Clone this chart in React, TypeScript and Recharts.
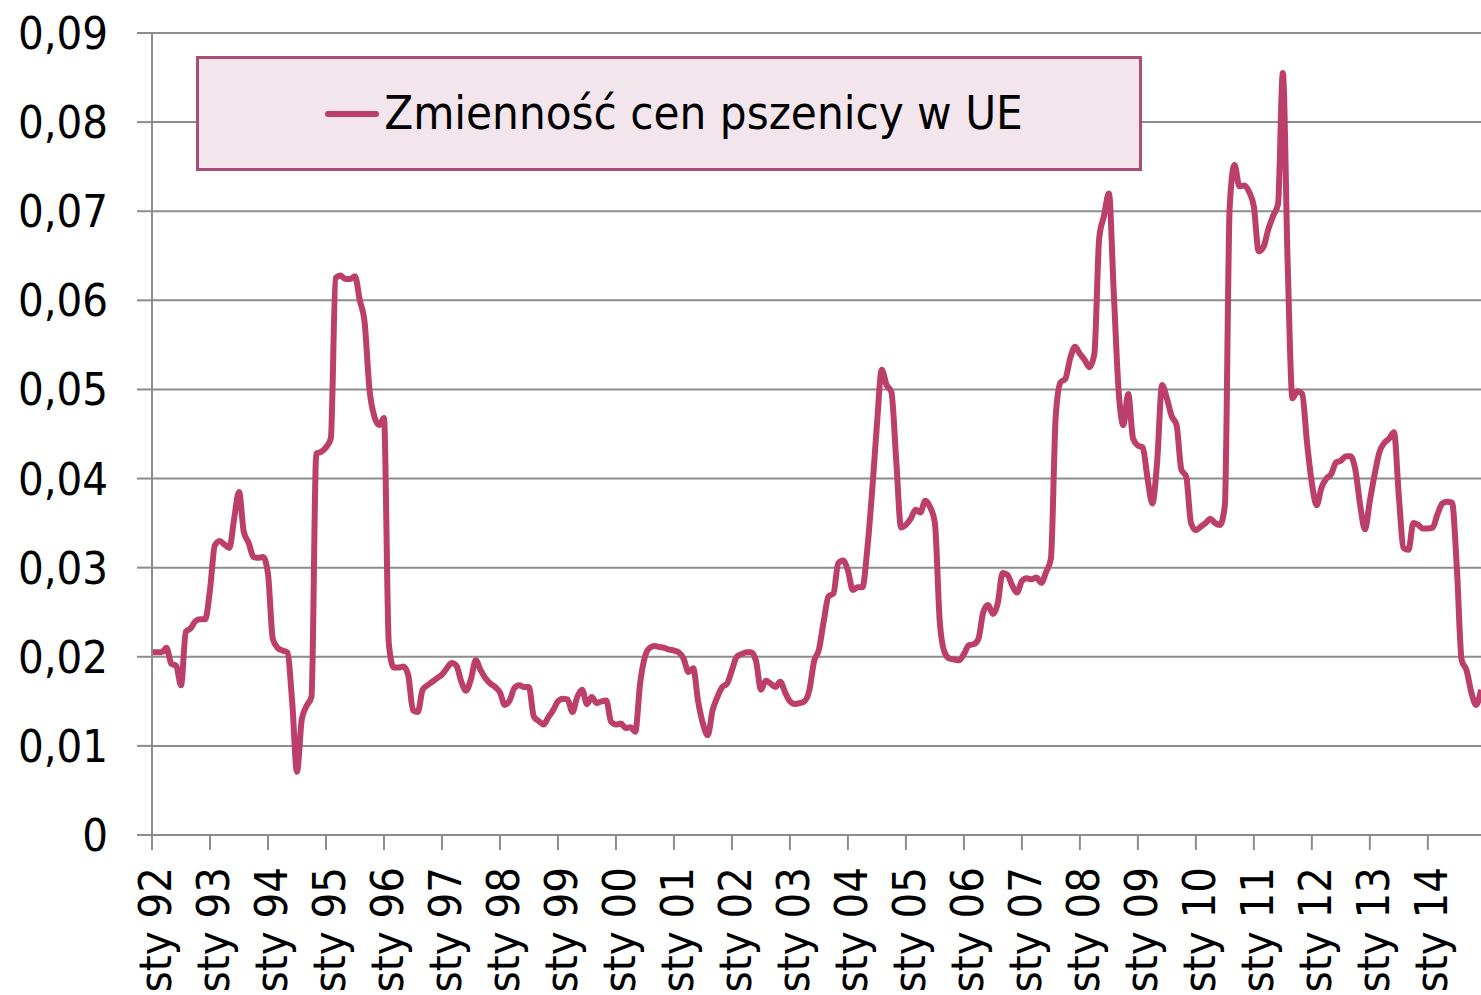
import React from "react";
import { LineChart, Line, XAxis, YAxis, CartesianGrid } from "recharts";

// monthly values, one array per year (sty = January)
const y1992 = [0.0205, 0.0205, 0.0205, 0.021, 0.0192, 0.019, 0.0168, 0.0228, 0.0232, 0.024, 0.0242, 0.0242];
const y1993 = [0.0275, 0.0325, 0.033, 0.0326, 0.0322, 0.0355, 0.0385, 0.034, 0.0328, 0.0312, 0.0311, 0.0312];
const y1994 = [0.0293, 0.022, 0.021, 0.0207, 0.0205, 0.015, 0.0071, 0.013, 0.0145, 0.0155, 0.0428, 0.043];
const y1995 = [0.0435, 0.0445, 0.0625, 0.0628, 0.0624, 0.0624, 0.0627, 0.06, 0.0575, 0.05, 0.047, 0.046];
const y1996 = [0.0468, 0.0215, 0.0188, 0.0188, 0.0189, 0.018, 0.014, 0.0138, 0.0163, 0.0168, 0.0172, 0.0176];
const y1997 = [0.018, 0.0187, 0.0193, 0.019, 0.0172, 0.0162, 0.0175, 0.0196, 0.0185, 0.0176, 0.017, 0.0166];
const y1998 = [0.016, 0.0146, 0.0151, 0.0165, 0.0168, 0.0166, 0.0166, 0.0133, 0.0128, 0.0124, 0.0132, 0.014];
const y1999 = [0.015, 0.0153, 0.0152, 0.0138, 0.0155, 0.0163, 0.0147, 0.0155, 0.0148, 0.015, 0.0151, 0.0127];
const y2000 = [0.0124, 0.0125, 0.012, 0.0121, 0.0116, 0.017, 0.02, 0.021, 0.0212, 0.0211, 0.021, 0.0208];
const y2001 = [0.0207, 0.0205, 0.0198, 0.0183, 0.0187, 0.015, 0.0125, 0.0112, 0.014, 0.0155, 0.0166, 0.017];
const y2002 = [0.0185, 0.02, 0.0203, 0.0205, 0.0205, 0.0195, 0.0163, 0.0173, 0.017, 0.0166, 0.0172, 0.016];
const y2003 = [0.015, 0.0147, 0.0148, 0.015, 0.0162, 0.0195, 0.0208, 0.024, 0.0268, 0.0271, 0.0305, 0.0308];
const y2004 = [0.0297, 0.0275, 0.0278, 0.0278, 0.032, 0.0385, 0.046, 0.0522, 0.0505, 0.0497, 0.042, 0.0345];
const y2005 = [0.0348, 0.0355, 0.0365, 0.0362, 0.0375, 0.0368, 0.035, 0.024, 0.0205, 0.0198, 0.0197, 0.0196];
const y2006 = [0.0203, 0.0213, 0.0214, 0.022, 0.025, 0.0258, 0.0248, 0.026, 0.0294, 0.0292, 0.028, 0.0272];
const y2007 = [0.0285, 0.0288, 0.0287, 0.0289, 0.0283, 0.0295, 0.031, 0.047, 0.0508, 0.0512, 0.0535, 0.0548];
const y2008 = [0.054, 0.0533, 0.0525, 0.054, 0.067, 0.0695, 0.072, 0.061, 0.05, 0.046, 0.0495, 0.0445];
const y2009 = [0.0437, 0.0435, 0.04, 0.0372, 0.042, 0.0505, 0.049, 0.047, 0.046, 0.041, 0.0402, 0.035];
const y2010 = [0.0342, 0.0346, 0.035, 0.0355, 0.035, 0.0348, 0.037, 0.0705, 0.0752, 0.0728, 0.0729, 0.0722];
const y2011 = [0.0705, 0.0655, 0.066, 0.068, 0.0695, 0.0708, 0.0855, 0.064, 0.049, 0.0498, 0.0495, 0.044];
const y2012 = [0.0395, 0.037, 0.039, 0.04, 0.0405, 0.0418, 0.042, 0.0425, 0.0425, 0.041, 0.037, 0.0343];
const y2013 = [0.0375, 0.0405, 0.043, 0.044, 0.0445, 0.0452, 0.038, 0.0322, 0.032, 0.035, 0.0348, 0.0344];
const y2014 = [0.0344, 0.0345, 0.036, 0.0372, 0.0374, 0.0373, 0.03, 0.0196, 0.0185, 0.016, 0.0146, 0.0163];

const years = [
  y1992, y1993, y1994, y1995, y1996, y1997, y1998, y1999, y2000, y2001, y2002, y2003,
  y2004, y2005, y2006, y2007, y2008, y2009, y2010, y2011, y2012, y2013, y2014,
];
const yearLabels = ["92", "93", "94", "95", "96", "97", "98", "99", "00", "01", "02", "03",
  "04", "05", "06", "07", "08", "09", "10", "11", "12", "13", "14"];
const yTicks = [0, 0.01, 0.02, 0.03, 0.04, 0.05, 0.06, 0.07, 0.08, 0.09];
const seriesName = "Zmienność cen pszenicy w UE";

const data = years.flatMap((vals, yi) => vals.map((v, mi) => ({ m: yi * 12 + mi, v })));
const xTicks = yearLabels.map((_, i) => i * 12);

const FONT = "'DejaVu Sans Condensed', 'DejaVu Sans', sans-serif";
const LINE = "#BC3E6B";
const AXIS = "#8C8C8C";

function XTick({ x, y, payload }: any) {
  const label = "sty " + yearLabels[Math.round(payload.value / 12)];
  return (
    <text
      transform={`translate(${x + 19},${y + 17}) rotate(-90)`}
      textAnchor="end"
      fontFamily={FONT}
      fontStretch="condensed"
      fontSize={45}
      fill="#000"
    >
      {label}
    </text>
  );
}

// legend box drawn over the plot, Excel style
function LegendBox() {
  return (
    <div
      style={{
        position: "absolute",
        left: 196,
        top: 56,
        width: 930,
        height: 109,
        paddingLeft: 10,
        boxSizing: "content-box",
        background: "#F3E5EC",
        border: "3px solid #A84F79",
        display: "flex",
        alignItems: "center",
        justifyContent: "center",
        fontFamily: FONT,
        fontStretch: "condensed",
        fontSize: 47,
        color: "#000",
        whiteSpace: "nowrap",
      }}
    >
      <span style={{ display: "inline-block", width: 54, height: 6, background: LINE, borderRadius: 3, marginRight: 5 }} />
      <span style={{ marginTop: -2 }}>{seriesName}</span>
    </div>
  );
}

export default function App() {
  return (
    <div style={{ position: "absolute", left: 0, top: 0, width: 1481, height: 995, background: "#fff" }}>
      <LineChart width={1481} height={995} data={data} margin={{ top: 33, right: 0, left: 0, bottom: 0 }}>
        <CartesianGrid vertical={false} stroke={AXIS} strokeWidth={2} />
        <XAxis
          dataKey="m"
          type="number"
          domain={[0, 275]}
          ticks={xTicks}
          interval={0}
          height={160}
          tickSize={15}
          tickMargin={0}
          stroke={AXIS}
          strokeWidth={2}
          tick={<XTick />}
        />
        <YAxis
          domain={[0, 0.09]}
          ticks={yTicks}
          width={152}
          tickSize={15}
          tickMargin={29}
          stroke={AXIS}
          strokeWidth={2}
          interval={0}
          tick={{ fill: "#000", fontSize: 45, fontFamily: FONT, fontStretch: "condensed" } as any}
          tickFormatter={(v: number) => (v === 0 ? "0" : v.toFixed(2).replace(".", ","))}
        />
        <Line
          type="monotone"
          dataKey="v"
          name={seriesName}
          stroke={LINE}
          strokeWidth={6}
          dot={false}
          isAnimationActive={false}
        />
      </LineChart>
      <LegendBox />
    </div>
  );
}
